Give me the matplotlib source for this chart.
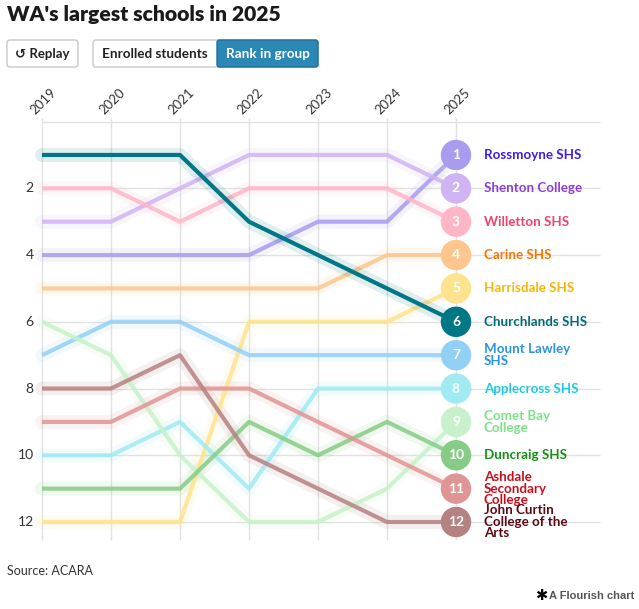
import numpy as np
import matplotlib
matplotlib.use('Agg')
import matplotlib.pyplot as plt
from matplotlib.patches import FancyBboxPatch

plt.rcParams['font.family'] = ['Lato', 'DejaVu Sans']

# ---------------------------------------------------------------
# data: rank in group per year (1 = largest)
years = [2019, 2020, 2021, 2022, 2023, 2024, 2025]
schools = ['Rossmoyne SHS', 'Shenton College', 'Willetton SHS', 'Carine SHS',
           'Harrisdale SHS', 'Churchlands SHS', 'Mount Lawley\nSHS', 'Applecross SHS',
           'Comet Bay\nCollege', 'Duncraig SHS', 'Ashdale\nSecondary\nCollege',
           'John Curtin\nCollege of the\nArts']
rossmoyne   = [4, 4, 4, 4, 3, 3, 1]
shenton     = [3, 3, 2, 1, 1, 1, 2]
willetton   = [2, 2, 3, 2, 2, 2, 3]
carine      = [5, 5, 5, 5, 5, 4, 4]
harrisdale  = [12, 12, 12, 6, 6, 6, 5]
churchlands = [1, 1, 1, 3, 4, 5, 6]
mt_lawley   = [7, 6, 6, 7, 7, 7, 7]
applecross  = [10, 10, 9, 11, 8, 8, 8]
comet_bay   = [6, 7, 10, 12, 12, 11, 9]
duncraig    = [11, 11, 11, 9, 10, 9, 10]
ashdale     = [9, 9, 8, 8, 9, 10, 11]
john_curtin = [8, 8, 7, 10, 11, 12, 12]
ranks = [rossmoyne, shenton, willetton, carine, harrisdale, churchlands,
         mt_lawley, applecross, comet_bay, duncraig, ashdale, john_curtin]

line_cols = ['#a99cee', '#d0b3f3', '#ffb6c7', '#fdc68e', '#fee38f', '#007784',
             '#93d0f5', '#a0eaf1', '#c8f1cb', '#86cc86', '#df9595', '#b58282']
text_cols = ['#3c1ee8', '#8b3fd9', '#f2416b', '#f87304', '#f5b60a', '#006c78',
             '#2b92e6', '#1fcbdc', '#7fe08a', '#168f16', '#c80f1e', '#5c0a14']
highlight = 'Churchlands SHS'

# ---------------------------------------------------------------
W, H = 639, 609
fig = plt.figure(figsize=(W/100, H/100), dpi=100)
def fx(px): return px/W
def fy(py): return 1 - py/H

# title + buttons
fig.text(fx(7), fy(15), "WA's largest schools in 2025", fontsize=15.2,
         fontweight='heavy', color='#1a1a1a', va='center', ha='left')
fig.patches.append(FancyBboxPatch((fx(7), fy(67)), fx(71), 27/H,
                   boxstyle='round,pad=0,rounding_size=0.005', transform=fig.transFigure,
                   facecolor='white', edgecolor='#c8c8c8', lw=1, figure=fig))
fig.text(fx(42.5), fy(54), '\u21ba Replay', fontsize=9.5, fontweight='bold',
         color='#222222', ha='center', va='center', family=['Lato', 'DejaVu Sans'])
fig.patches.append(FancyBboxPatch((fx(93), fy(67)), fx(225), 27/H,
                   boxstyle='round,pad=0,rounding_size=0.005', transform=fig.transFigure,
                   facecolor='white', edgecolor='#c8c8c8', lw=1, figure=fig))
fig.patches.append(FancyBboxPatch((fx(217), fy(67)), fx(101), 27/H,
                   boxstyle='round,pad=0,rounding_size=0.004', transform=fig.transFigure,
                   facecolor='#2b88b5', edgecolor='#1f6f96', lw=1, figure=fig))
fig.text(fx(155), fy(54), 'Enrolled students', fontsize=9.7, fontweight='bold',
         color='#222222', ha='center', va='center')
fig.text(fx(267.5), fy(54), 'Rank in group', fontsize=9.7, fontweight='bold',
         color='white', ha='center', va='center')

# main axes
ax = fig.add_axes([fx(42), fy(540), fx(558), (540-121.6)/H])
ax.set_xlim(2019, 2019 + 558/69)
ax.set_ylim(12 + 18/33.36, 0)
ax.axis('off')

# grid
ax.hlines(np.arange(0, 13, 2), 2019, 2019 + 558/69, color='#e2e2e2', lw=1, zorder=0, clip_on=False)
ax.vlines(years, -0.12, 12 + 18/33.36, color='#e2e2e2', lw=1, zorder=0, clip_on=False)
for r in range(2, 13, 2):
    ax.text(2019 - 0.12, r, str(r), ha='right', va='center', fontsize=10, color='#333333')
for y in years:
    ax.text(y - 0.08, -0.16, str(y), rotation=45, rotation_mode='anchor',
            ha='left', va='bottom', fontsize=9.5, color='#333333')

# lines
for i, (name, r) in enumerate(zip(schools, ranks)):
    z = 5 if name == highlight else 2
    a = 1.0 if name == highlight else 0.85
    ax.plot(years, r, color=line_cols[i], lw=10, alpha=0.12, solid_capstyle='round',
            solid_joinstyle='round', zorder=z, clip_on=False)
    ax.plot(years, r, color=line_cols[i], lw=3, alpha=a, solid_capstyle='butt',
            solid_joinstyle='round', zorder=z + 0.5, clip_on=False)

# end circles and labels
for i, (name, r) in enumerate(zip(schools, ranks)):
    ax.scatter([years[-1]], [r[-1]], s=480, color=line_cols[i], edgecolor='none',
               zorder=10, clip_on=False)
    ax.text(years[-1], r[-1], str(r[-1]), ha='center', va='center', fontsize=10,
            fontweight='bold', color='white', zorder=11)
    ax.text(years[-1] + 28/69, r[-1], name, ha='left', va='center', fontsize=9.6,
            fontweight='bold', color=text_cols[i], linespacing=0.95, zorder=11)

# footer
fig.text(fx(7), fy(571), 'Source: ACARA', fontsize=9, color='#333333', ha='left', va='center')
fig.text(fx(634), fy(596), 'A Flourish chart', fontsize=8, color='#555555', fontweight='bold',
         ha='right', va='center', family=['Liberation Sans Narrow', 'Liberation Sans'])
fig.text(fx(547), fy(596), '\u2731', fontsize=10.5, color='#000000', fontweight='bold',
         ha='right', va='center', family=['DejaVu Sans'])

fig.savefig('out.png', dpi=100)
